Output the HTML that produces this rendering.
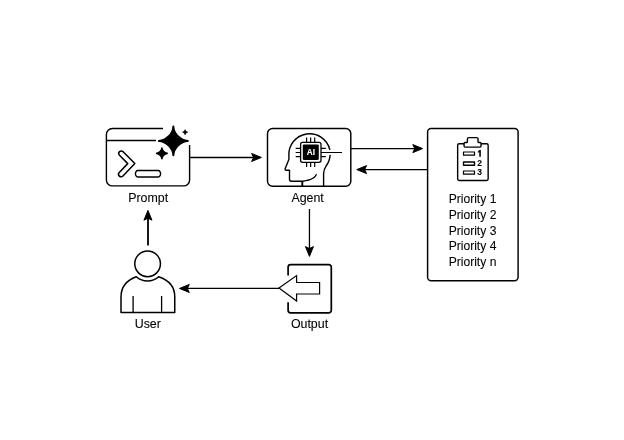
<!DOCTYPE html>
<html><head><meta charset="utf-8">
<style>
html,body{margin:0;padding:0;background:#fff;width:624px;height:440px;overflow:hidden}
svg{position:absolute;left:0;top:0;display:block;will-change:transform}
text{font-family:"Liberation Sans",sans-serif;fill:#000;stroke:#000;stroke-width:0.08px}
</style></head><body>
<svg width="624" height="440" viewBox="0 0 624 440">
<g fill="none" stroke="#000" stroke-width="1.5" stroke-linecap="butt" stroke-linejoin="round">
  <!-- Prompt box -->
  <path d="M163 128.5 H112.4 A6 6 0 0 0 106.4 134.5 V179.9 A6 6 0 0 0 112.4 185.9 H183.6 A6 6 0 0 0 189.6 179.9 V145" stroke-width="1.4"/>
  <path d="M106.4 140.5 H156" stroke-width="1.3"/>
  <!-- chevron -->
  <path d="M123.12 151.66 L134.85 163.57 L122.95 176.06 A2.55 2.55 0 0 1 119.25 172.54 L127.75 163.63 L119.48 155.24 A2.55 2.55 0 0 1 123.12 151.66 Z" stroke-width="1.5" stroke-linejoin="round"/>
  <path d="M137.6 170.5 H158.4 C159.6 170.5 160.6 172.5 160.6 173.75 C160.6 175 159.6 177 158.4 177 H137.6 C136.4 177 135.4 175 135.4 173.75 C135.4 172.5 136.4 170.5 137.6 170.5 Z" stroke-width="1.4"/>
</g>
<!-- stars -->
<g fill="#000" stroke="#000" stroke-width="1.5" stroke-linejoin="round">
  <path d="M173.35 126.45 C173.5 133.64 180.61 140.75 187.8 140.9 C180.61 141.05 173.5 148.16 173.35 155.35 C173.2 148.16 166.09 141.05 158.9 140.9 C166.09 140.75 173.2 133.64 173.35 126.45 Z" stroke-width="2"/>
  <path d="M161.9 148.05 C162.02 150.6 164.65 153.23 167.2 153.35 C164.65 153.47 162.02 156.09 161.9 158.65 C161.78 156.09 159.16 153.47 156.6 153.35 C159.16 153.23 161.78 150.6 161.9 148.05 Z" stroke-width="1.6"/>
  <path d="M185.1 129.8 C185.3 130.95 186.35 132 187.5 132.2 C186.35 132.4 185.3 133.45 185.1 134.6 C184.9 133.45 183.85 132.4 182.7 132.2 C183.85 132 184.9 130.95 185.1 129.8 Z" stroke-width="1"/>
</g>
<g fill="none" stroke="#000" stroke-width="1.3">
  <!-- arrow prompt -> agent -->
  <path d="M189.6 157.5 H254"/>
  <!-- agent -> priority -->
  <path d="M350.8 148.6 H416" stroke-width="1.45"/>
  <!-- priority -> agent -->
  <path d="M427.6 169.6 H363" stroke-width="1.4"/>
  <!-- agent -> output -->
  <path d="M309.45 209 V250"/>
  <!-- output -> user -->
  <path d="M279 288.45 H186"/>
  <!-- user -> prompt -->
  <path d="M148 245.6 V217" stroke-width="1.8"/>
</g>
<g fill="#000" stroke="#000" stroke-width="1" stroke-linejoin="round">
<path d="M261.4 157.45 L251.6 161.45 L253.6 157.45 L251.6 153.45 Z"/>
<path d="M422.6 148.6 L412.8 152.6 L414.8 148.6 L412.8 144.6 Z"/>
<path d="M356.8 169.6 L366.6 165.6 L364.6 169.6 L366.6 173.6 Z"/>
<path d="M309.45 256.4 L305.45 246.6 L309.45 248.6 L313.45 246.6 Z"/>
<path d="M179.5 288.45 L189.3 284.45 L187.3 288.45 L189.3 292.45 Z"/>
<path d="M147.95 210.4 L151.95 220.2 L147.95 218.2 L143.95 220.2 Z"/>
</g>
<g fill="none" stroke="#000" stroke-width="1.5" stroke-linejoin="round">
  <!-- Agent box -->
  <rect x="267.5" y="128.5" width="83.3" height="57.75" rx="5" stroke-width="1.45"/>
  <!-- head -->
  <path d="M316.5 174.3 C315 177.5 312.5 179.2 308 180.2 C306 180.8 304 181.2 302.4 181.2 H291.6 Q289.5 181.2 289.5 179.2 V170.3 H286.4 Q284.6 170 285.3 168.2 L288.9 159.4 V156 A20.8 20.8 0 0 1 329.9 149.8 M330.2 154.9 Q329.6 161.5 326.2 165.8 Q323.6 169.5 323.6 173.5 V186" stroke-width="1.4"/>
  <path d="M302.3 186 V181.2" stroke-width="1.9"/>
  <!-- chip -->
  <rect x="300.6" y="142.3" width="20.4" height="20" rx="2" stroke-width="1.3"/>
  <path d="M306.6 137.5 V142.3 M310.65 137.5 V142.3 M314.7 137.5 V142.3 M306.6 162.3 V167 M310.65 162.3 V167 M314.7 162.3 V167 M295.7 148.4 H300.6 M295.7 152.5 H300.6 M295.7 156.6 H300.6 M321 148.4 H325.8 M321 156.6 H325.8 M321 152.5 H342" stroke-width="1.2"/>
</g>
<rect x="302.8" y="144.4" width="16" height="15.6" rx="1.2" fill="#000"/>
<text x="310.9" y="154.9" font-size="8.2" font-weight="bold" text-anchor="middle" style="fill:#fff;stroke:#fff;stroke-width:0.1px">AI</text>

<!-- Priority box -->
<g fill="none" stroke="#000" stroke-width="1.5" stroke-linejoin="round">
  <rect x="427.6" y="128.5" width="90.5" height="152.3" rx="3.5" stroke-width="1.45"/>
  <!-- clipboard -->
  <path d="M464.05 143.7 H459.1 Q457.65 143.7 457.65 145.15 V179.1 Q457.65 180.55 459.1 180.55 H486.7 Q488.15 180.55 488.15 179.1 V145.15 Q488.15 143.7 486.7 143.7 H481.05" stroke-width="1.4"/>
  <path d="M465 142.5 H466.6 Q467.4 142.5 467.4 141.7 V139.1 Q467.4 137.65 468.9 137.65 H476.6 Q478.05 137.65 478.05 139.1 V141.7 Q478.05 142.5 478.85 142.5 H480.1 Q481.05 142.5 481.05 143.45 V146 Q481.05 147.1 479.95 147.1 H465.15 Q464.05 147.1 464.05 146 V143.45 Q464.05 142.5 465 142.5 Z" stroke-width="1.4"/>
  <rect x="463.5" y="152" width="11" height="3.2" stroke-width="1.2"/>
  <rect x="463.5" y="162" width="11" height="3.2" stroke-width="1.4"/>
  <rect x="463.5" y="171" width="11" height="3.2" stroke-width="1.2"/>
</g>
<g font-size="8.5" font-weight="bold">
  <path d="M479.25 150.1 H480.85 V156.8 H479.25 V152 Q478.6 152.6 477.85 152.75 V151.4 Q478.9 151 479.25 150.1 Z" fill="#000"/>
  <text x="477.3" y="165.8">2</text>
  <text x="477.3" y="174.8">3</text>
</g>
<g font-size="12.4">
  <text x="472.5" y="203.4" text-anchor="middle" font-size="12.1">Priority 1</text>
  <text x="472.5" y="218.9" text-anchor="middle" font-size="12.1">Priority 2</text>
  <text x="472.5" y="234.5" text-anchor="middle" font-size="12.1">Priority 3</text>
  <text x="472.5" y="250.1" text-anchor="middle" font-size="12.1">Priority 4</text>
  <text x="472.5" y="265.7" text-anchor="middle" font-size="12.1">Priority n</text>
  <text x="148.2" y="201.9" text-anchor="middle">Prompt</text>
  <text x="307.6" y="201.9" text-anchor="middle">Agent</text>
  <text x="147.8" y="327.6" text-anchor="middle">User</text>
  <text x="309.5" y="327.9" text-anchor="middle">Output</text>
</g>

<!-- User -->
<g fill="none" stroke="#000" stroke-width="1.5" stroke-linejoin="round">
  <circle cx="147.6" cy="263.8" r="12.85"/>
  <path d="M136.3 276.8 Q141 281.1 147.5 281.1 Q154 281.1 158.7 276.8 Q175 282.4 174.75 297 V312.5 H121 V297 Q121 282.4 136.3 276.8 Z"/>
  <path d="M133.1 296 V312.5 M161.6 296 V312.5" stroke-width="1.3"/>
</g>

<!-- Output -->
<g fill="none" stroke="#000" stroke-width="1.5" stroke-linejoin="round">
  <path d="M288.1 275.5 V267.2 A2.5 2.5 0 0 1 290.6 264.7 H328.8 A2.5 2.5 0 0 1 331.3 267.2 V310.3 A2.5 2.5 0 0 1 328.8 312.8 H290.6 A2.5 2.5 0 0 1 288.1 310.3 V302.2" stroke-width="1.7"/>
  <path d="M279 288.1 L296.6 275.6 V282.5 H319.6 V294 H296.6 V301 Z" stroke-width="1.2" stroke-linejoin="miter"/>
</g>
</svg>
</body></html>
